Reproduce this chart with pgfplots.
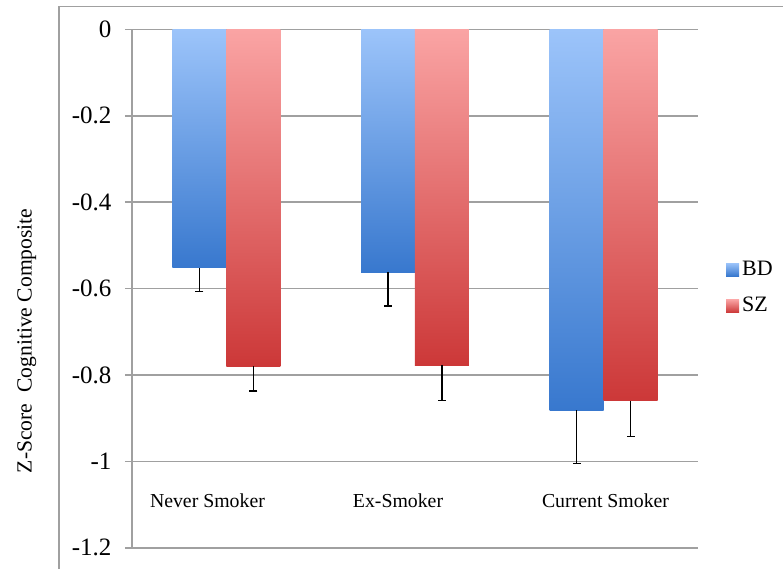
\documentclass[border=0pt]{standalone}
\usepackage{fontspec}
\setmainfont{Liberation Serif}
\usepackage{pgfplots}
\pgfplotsset{compat=1.18}
\definecolor{bdtop}{RGB}{156,196,250}
\definecolor{bdbot}{RGB}{56,120,206}
\definecolor{sztop}{RGB}{250,164,164}
\definecolor{szbot}{RGB}{204,56,56}
\definecolor{gridgray}{RGB}{160,160,160}
\pgfplotsset{
  bdbar/.style={ybar, bar shift=0pt, draw=none, top color=bdtop, bottom color=bdbot,
    legend image code/.code={\shade[top color=bdtop, bottom color=bdbot] (0pt,-3.25pt) rectangle (6.5pt,3.25pt);},
    error bars/y dir=minus, error bars/y explicit},
  szbar/.style={ybar, bar shift=0pt, draw=none, top color=sztop, bottom color=szbot,
    legend image code/.code={\shade[top color=sztop, bottom color=szbot] (0pt,-3.25pt) rectangle (6.5pt,3.25pt);},
    error bars/y dir=minus, error bars/y explicit},
}
\begin{document}
\begin{tikzpicture}
\useasboundingbox (0pt,0pt) rectangle (391.5pt,-284.5pt);
\draw[gridgray, line width=0.6pt] (29.5pt,-284.5pt) -- (29.5pt,-3.35pt) -- (391.5pt,-3.35pt);
\begin{axis}[
  at={(66pt,-273.85pt)}, anchor=south west,
  scale only axis, width=283pt, height=259.2pt,
  xmin=-0.5, xmax=2.5, ymin=-1.2, ymax=0,
  bar width=27pt,
  axis x line*=bottom, axis y line*=left,
  axis line style={gridgray, line width=0.8pt, -},
  xtick=\empty,
  ytick={-1.2,-1,-0.8,-0.6,-0.4,-0.2,0},
  yticklabels={-1.2,-1,-0.8,-0.6,-0.4,-0.2,0},
  yticklabel style={font=\fontsize{12.5}{14}\selectfont, anchor=east, inner sep=0pt, xshift=-6.6pt},
  tick align=outside, major tick length=3.5pt,
  ytick style={gridgray, line width=0.8pt},
  ymajorgrids, grid style={gridgray, line width=0.8pt},
  ylabel={Z-Score\ \ Cognitive Composite},
  ylabel style={at={(rel axis cs:-0.186,0.399)}, anchor=center, font=\fontsize{10.8}{12}\selectfont},
  legend style={draw=none, fill=none, at={(rel axis cs:1.049,0.56)}, anchor=north west,
    font=\fontsize{11}{13}\selectfont, row sep=6.5pt, inner sep=0pt, nodes={inner sep=1.5pt}},
  legend cell align=left,
  error bars/error bar style={black, line width=0.8pt},
  error bars/error mark options={black, line width=0.8pt, mark size=2pt, rotate=90},
]
% bars placed at group centre -/+ half a bar width (0.1431 in x units)
% BD: Never, Ex, Current ; SZ: Never, Ex, Current
\addplot[bdbar] coordinates {(-0.1431,-0.552) +- (0,0.055)};
\addlegendentry{BD}
\addplot[szbar] coordinates {(0.1431,-0.780) +- (0,0.057)};
\addlegendentry{SZ}
\addplot[forget plot, bdbar] coordinates {(0.8569,-0.562) +- (0,0.078)};
\addplot[forget plot, bdbar] coordinates {(1.8569,-0.882) +- (0,0.123)};
\addplot[forget plot, szbar] coordinates {(1.1431,-0.778) +- (0,0.081)};
\addplot[forget plot, szbar] coordinates {(2.1431,-0.860) +- (0,0.083)};
\node[font=\fontsize{9.9}{11}\selectfont] at (axis cs:-0.1,-1.092) {Never Smoker};
\node[font=\fontsize{9.9}{11}\selectfont] at (axis cs:0.91,-1.092) {Ex-Smoker};
\node[font=\fontsize{9.9}{11}\selectfont] at (axis cs:2.01,-1.092) {Current Smoker};
\end{axis}
\end{tikzpicture}
\end{document}
